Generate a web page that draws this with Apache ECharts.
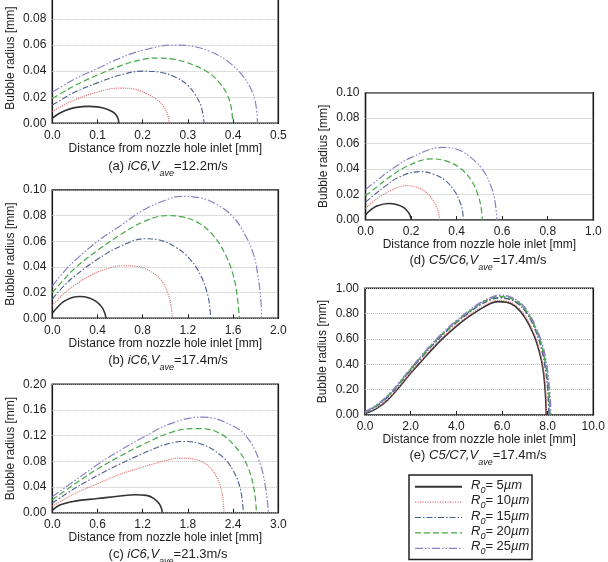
<!DOCTYPE html>
<html><head><meta charset="utf-8">
<script src="https://cdn.jsdelivr.net/npm/echarts@6/dist/echarts.min.js"></script>
<style>html,body{margin:0;padding:0;background:#fff}#c{width:608px;height:562px}</style>
</head><body><div id="c"></div>
<script>
// ---------- DATA ----------
// Panel (a) iC6, Vave=12.2 m/s
const a5  = [[0,0.004],[0.015,0.0075],[0.03,0.010],[0.05,0.012],[0.08,0.013],[0.10,0.0126],[0.12,0.011],[0.135,0.0085],[0.142,0.006],[0.146,0.003],[0.147,0]];
const a10 = [[0,0.009],[0.02,0.013],[0.05,0.018],[0.10,0.024],[0.15,0.027],[0.185,0.026],[0.21,0.0225],[0.232,0.018],[0.246,0.013],[0.254,0.008],[0.259,0]];
const a15 = [[0,0.014],[0.02,0.018],[0.05,0.024],[0.10,0.031],[0.15,0.037],[0.20,0.040],[0.24,0.039],[0.275,0.035],[0.30,0.029],[0.318,0.021],[0.330,0.012],[0.336,0]];
const a20 = [[0,0.019],[0.02,0.023],[0.05,0.029],[0.10,0.037],[0.15,0.044],[0.20,0.049],[0.235,0.050],[0.27,0.049],[0.31,0.045],[0.345,0.039],[0.37,0.031],[0.387,0.022],[0.396,0.012],[0.399,0]];
const a25 = [[0,0.024],[0.02,0.028],[0.05,0.034],[0.10,0.042],[0.15,0.050],[0.20,0.056],[0.27,0.060],[0.31,0.059],[0.35,0.055],[0.39,0.047],[0.42,0.037],[0.44,0.026],[0.45,0.015],[0.454,0]];
// Panel (b) iC6, Vave=17.4 m/s
const b5  = [[0,0.004],[0.05,0.009],[0.10,0.013],[0.17,0.016],[0.245,0.017],[0.32,0.016],[0.39,0.013],[0.44,0.0085],[0.465,0.004],[0.475,0]];
const b10 = [[0,0.010],[0.10,0.019],[0.20,0.026],[0.35,0.034],[0.50,0.039],[0.62,0.041],[0.75,0.0405],[0.88,0.036],[0.97,0.029],[1.02,0.020],[1.05,0.010],[1.062,0]];
const b15 = [[0,0.015],[0.10,0.025],[0.20,0.033],[0.40,0.046],[0.60,0.056],[0.82,0.062],[0.95,0.061],[1.10,0.055],[1.22,0.046],[1.31,0.034],[1.37,0.020],[1.395,0.008],[1.40,0]];
const b20 = [[0,0.020],[0.10,0.030],[0.20,0.039],[0.40,0.053],[0.60,0.065],[0.80,0.075],[1.01,0.080],[1.15,0.079],[1.30,0.074],[1.43,0.064],[1.53,0.050],[1.60,0.034],[1.635,0.018],[1.655,0]];
const b25 = [[0,0.025],[0.10,0.036],[0.20,0.045],[0.40,0.060],[0.60,0.072],[0.80,0.084],[1.00,0.092],[1.13,0.095],[1.30,0.094],[1.45,0.089],[1.60,0.079],[1.70,0.066],[1.78,0.050],[1.82,0.033],[1.845,0.015],[1.853,0]];
// Panel (c) iC6, Vave=21.3 m/s
const c5  = [[0,0.004],[0.10,0.012],[0.30,0.018],[0.60,0.022],[0.90,0.026],[1.10,0.028],[1.25,0.027],[1.35,0.022],[1.42,0.014],[1.45,0.006],[1.46,0]];
const c10 = [[0,0.010],[0.30,0.030],[0.60,0.045],[0.90,0.060],[1.20,0.071],[1.50,0.081],[1.70,0.085],[1.90,0.083],[2.05,0.075],[2.15,0.062],[2.22,0.045],[2.26,0.025],[2.28,0]];
const c15 = [[0,0.015],[0.30,0.038],[0.60,0.058],[0.90,0.076],[1.20,0.092],[1.50,0.106],[1.75,0.111],[2.00,0.106],[2.25,0.088],[2.40,0.066],[2.50,0.035],[2.535,0]];
const c20 = [[0,0.020],[0.30,0.045],[0.60,0.068],[0.90,0.088],[1.20,0.106],[1.60,0.126],[1.90,0.131],[2.20,0.125],[2.45,0.100],[2.60,0.070],[2.68,0.035],[2.71,0]];
const c25 = [[0,0.025],[0.30,0.050],[0.60,0.075],[0.90,0.097],[1.20,0.117],[1.60,0.140],[2.00,0.149],[2.40,0.135],[2.60,0.115],[2.75,0.080],[2.83,0.040],[2.87,0]];
// Panel (d) C5/C6, Vave=17.4 m/s
const d5  = [[0,0.004],[0.02,0.0075],[0.05,0.011],[0.10,0.013],[0.14,0.012],[0.17,0.0095],[0.19,0.0055],[0.198,0.0025],[0.20,0]];
const d10 = [[0,0.009],[0.03,0.014],[0.07,0.019],[0.12,0.024],[0.18,0.027],[0.22,0.026],[0.26,0.0225],[0.29,0.017],[0.31,0.011],[0.32,0.006],[0.325,0]];
const d15 = [[0,0.014],[0.04,0.020],[0.09,0.027],[0.15,0.034],[0.24,0.038],[0.30,0.036],[0.35,0.031],[0.39,0.023],[0.415,0.014],[0.426,0.007],[0.43,0]];
const d20 = [[0,0.019],[0.05,0.026],[0.10,0.033],[0.18,0.042],[0.29,0.048],[0.36,0.046],[0.42,0.040],[0.465,0.031],[0.495,0.019],[0.508,0.009],[0.513,0]];
const d25 = [[0,0.024],[0.05,0.031],[0.10,0.038],[0.20,0.049],[0.34,0.057],[0.41,0.055],[0.47,0.048],[0.52,0.038],[0.55,0.027],[0.568,0.015],[0.577,0]];
// Panel (e) C5/C7, Vave=17.4 m/s
const e5  = [[0,0.010],[0.5,0.050],[1,0.120],[1.5,0.220],[2,0.330],[2.5,0.430],[3,0.530],[3.5,0.620],[4,0.700],[4.5,0.770],[5,0.830],[5.5,0.880],[5.8,0.895],[6.2,0.890],[6.6,0.855],[7.0,0.770],[7.4,0.630],[7.65,0.490],[7.8,0.360],[7.88,0.220],[7.92,0.100],[7.94,0]];
const e10 = [[0,0.012],[0.5,0.055],[1,0.125],[1.5,0.225],[2,0.335],[2.5,0.440],[3,0.540],[3.5,0.630],[4,0.710],[4.5,0.780],[5,0.840],[5.5,0.890],[5.8,0.905],[6.2,0.900],[6.6,0.865],[7.0,0.785],[7.4,0.645],[7.65,0.510],[7.8,0.380],[7.9,0.230],[7.94,0.100],[7.96,0]];
const e15 = [[0,0.020],[0.5,0.070],[1,0.145],[1.5,0.245],[2,0.355],[2.5,0.460],[3,0.560],[3.5,0.650],[4,0.730],[4.5,0.800],[5,0.865],[5.5,0.910],[5.9,0.925],[6.3,0.915],[6.7,0.880],[7.1,0.800],[7.5,0.655],[7.75,0.510],[7.9,0.370],[8.0,0.220],[8.04,0.100],[8.06,0]];
const e20 = [[0,0.022],[0.5,0.074],[1,0.150],[1.5,0.250],[2,0.362],[2.5,0.467],[3,0.567],[3.5,0.657],[4,0.737],[4.5,0.808],[5,0.873],[5.5,0.918],[5.9,0.935],[6.3,0.925],[6.7,0.890],[7.1,0.812],[7.5,0.670],[7.78,0.520],[7.93,0.380],[8.03,0.230],[8.08,0.100],[8.10,0]];
const e25 = [[0,0.025],[0.5,0.078],[1,0.155],[1.5,0.256],[2,0.368],[2.5,0.474],[3,0.574],[3.5,0.664],[4,0.744],[4.5,0.815],[5,0.880],[5.5,0.926],[5.9,0.945],[6.3,0.935],[6.7,0.900],[7.1,0.824],[7.5,0.685],[7.8,0.535],[7.96,0.390],[8.06,0.240],[8.12,0.100],[8.14,0]];

const seriesLabels = ['R0 = 5µm','R0 = 10µm','R0 = 15µm','R0 = 20µm','R0 = 25µm'];
const legendNums = ['5','10','15','20','25'];
const panelData = [[a5,a10,a15,a20,a25],[b5,b10,b15,b20,b25],[c5,c10,c15,c20,c25],[d5,d10,d15,d20,d25],[e5,e10,e15,e20,e25]];
// axis ranges [min, max, interval]
const xRanges = [[0,0.5,0.1],[0,2,0.4],[0,3,0.6],[0,1,0.2],[0,10,2]];
const yRanges = [[0,0.1,0.02],[0,0.1,0.02],[0,0.2,0.04],[0,0.1,0.02],[0,1,0.2]];
const captionLetters = ['(a) ','(b) ','(c) ','(d) ','(e) '];
const captionFuel = ['iC6','iC6','iC6','C5/C6','C5/C7'];
const captionSpeed = ['=12.2m/s','=17.4m/s','=21.3m/s','=17.4m/s','=17.4m/s'];
const xName = 'Distance from nozzle hole inlet [mm]';
const yName = 'Bubble radius [mm]';

// ---------- LAYOUT / STYLE ----------
const F = '"Liberation Sans", Arial, sans-serif';
const TXT = '#222';
const grids = [
  {left:52.3, top:-7.1, width:226, height:130.4},
  {left:52.3, top:190, width:226, height:128.3},
  {left:52.3, top:384.3, width:226, height:128.4},
  {left:365.5, top:92.7, width:227.8, height:127.3},
  {left:365, top:288.3, width:228.3, height:126.7}
];
const captionPos = [[168,168.5],[168,363],[168,556.5],[478,262.7],[478,458.3]];
const colors = ['#333333','#e06a6a','#4d5f8f','#44a844','#8a80c4'];
const types = ['solid','dotted',[6,2,1.5,2],[6,3],[8,2,1.5,2,1.5,2]];
const widths = [1.6,1.1,1.1,1.2,1.2];

const chart = echarts.init(document.getElementById('c'), null, {renderer:'canvas'});
const gridOpt = [], xAxis = [], yAxis = [], series = [], graphic = [];
grids.forEach((g,i)=>{
  gridOpt.push({left:g.left, top:g.top, width:g.width, height:g.height, show:true, borderColor:'#1a1a1a', borderWidth:1.6,
    containLabel:false, outerBoundsMode:'none'});
  xAxis.push({type:'value', gridIndex:i, min:xRanges[i][0], max:xRanges[i][1], interval:xRanges[i][2],
    name:xName, nameLocation:'middle', nameGap:18, nameTextStyle:{fontFamily:F, fontSize:12, color:TXT},
    axisLine:{show:false}, axisTick:{show:true, inside:true, length:4, lineStyle:{color:'#222'}},
    splitLine:{show:false},
    axisLabel:{fontFamily:F, fontSize:12, color:TXT, margin:6, showMinLabel:true, showMaxLabel:true, formatter:v=>v.toFixed(1)}});
  yAxis.push({type:'value', gridIndex:i, min:yRanges[i][0], max:yRanges[i][1], interval:yRanges[i][2],
    name:yName, nameLocation:'middle', nameGap:36, nameTextStyle:{fontFamily:F, fontSize:12, color:TXT},
    axisLine:{show:false}, axisTick:{show:false},
    splitLine:{show:true, lineStyle:{color:'#bdbdbd', type:'dotted', width:1}},
    axisLabel:{fontFamily:F, fontSize:12, color:TXT, margin:6, formatter:v=>v.toFixed(2)}});
  panelData[i].forEach((d,k)=>{
    series.push({type:'line', name:seriesLabels[k], xAxisIndex:i, yAxisIndex:i, data:d, showSymbol:false, symbol:'none',
      smooth:0.4, z:2+k,
      lineStyle:{color:colors[k], width:(i===4 && k>=2) ? 1.6 : widths[k], type:types[k]}, animation:false});
  });
  graphic.push({type:'text', x:captionPos[i][0], y:captionPos[i][1],
    style:{text:'{n|'+captionLetters[i]+'}{i|'+captionFuel[i]+',V}{s|ave}{n|'+captionSpeed[i]+'}',
      align:'center', verticalAlign:'middle',
      rich:{n:{fontFamily:F, fontSize:13, fill:TXT, lineHeight:18, verticalAlign:'top'},
            i:{fontFamily:F, fontSize:13, fontStyle:'italic', fill:TXT, lineHeight:18, verticalAlign:'top'},
            s:{fontFamily:F, fontSize:9, fontStyle:'italic', fill:TXT, lineHeight:9, verticalAlign:'bottom'}}}});
});

// legend box
const legX = 409, legY = 475, legW = 123, legH = 84.5;
const legChildren = [{type:'rect', shape:{x:legX, y:legY, width:legW, height:legH}, style:{fill:'#fff', stroke:'#222', lineWidth:1.5}}];
legendNums.forEach((n,k)=>{
  const yy = 486.7 + k*15.4;
  const dash = types[k]==='solid' ? null : (types[k]==='dotted' ? [1,1.5] : types[k]);
  legChildren.push({type:'line', shape:{x1:415, y1:yy, x2:462, y2:yy}, style:{stroke:colors[k], lineWidth: k===0?2:1.2, lineDash:dash}});
  legChildren.push({type:'text', x:471, y:yy, style:{text:'{i|R}{s|0}{n|= '+n+'}{i|µm}', verticalAlign:'middle', align:'left',
    rich:{i:{fontFamily:F, fontSize:13, fontStyle:'italic', fill:TXT, lineHeight:16, verticalAlign:'top'},
          n:{fontFamily:F, fontSize:13, fill:TXT, lineHeight:16, verticalAlign:'top'},
          s:{fontFamily:F, fontSize:9, fontStyle:'italic', fill:TXT, lineHeight:9, verticalAlign:'bottom'}}}});
});
graphic.push({type:'group', children:legChildren});

chart.setOption({animation:false, backgroundColor:'#fff', grid:gridOpt, xAxis, yAxis, series, graphic});
</script></body></html>
